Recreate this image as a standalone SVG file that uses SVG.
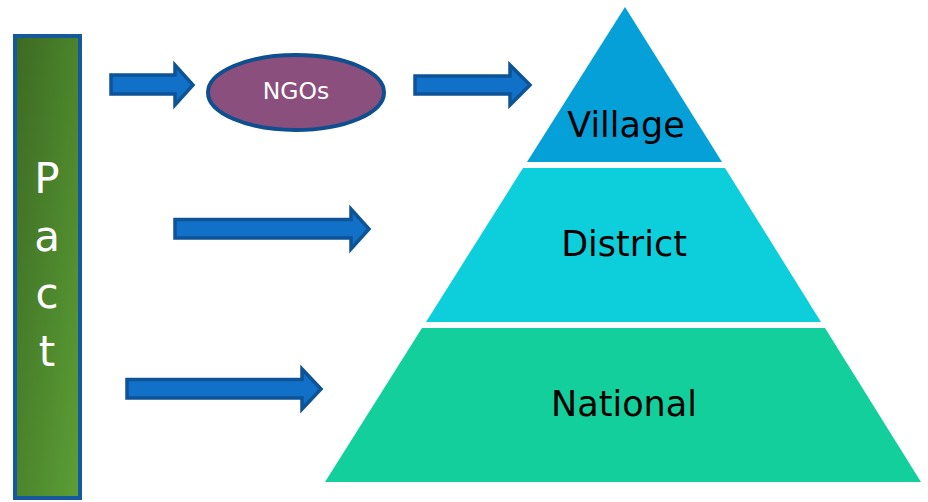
<svg xmlns="http://www.w3.org/2000/svg" width="928" height="502" viewBox="0 0 928 502">
<defs>
<linearGradient id="pactGrad" x1="0" y1="0" x2="1" y2="1">
<stop offset="0" stop-color="#3b6a22"/>
<stop offset="1" stop-color="#5c9f36"/>
</linearGradient>
<style>
.arrow{fill:#1170c8;stroke:#0d5396;stroke-width:3.5;stroke-linejoin:miter}
.lbl{font-family:"DejaVu Sans",Verdana,sans-serif;fill:#000;text-anchor:middle}
.pact{font-family:"DejaVu Sans",Verdana,sans-serif;fill:#fff;text-anchor:middle;font-size:42px}
</style>
</defs>
<rect width="928" height="502" fill="#fff"/>
<g id="pact">
<rect x="15" y="36" width="65" height="462" fill="url(#pactGrad)" stroke="#13599b" stroke-width="4"/>
<text class="pact" x="47" y="193">P</text>
<text class="pact" x="47" y="251">a</text>
<text class="pact" x="47" y="308">c</text>
<text class="pact" x="47" y="366">t</text>
</g>
<g id="ngos">
<ellipse cx="296" cy="92.5" rx="88" ry="37.5" fill="#8a4f7d" stroke="#0e4f8f" stroke-width="4"/>
<text x="296" y="99" font-family="DejaVu Sans,Verdana,sans-serif" font-size="23.5" fill="#fff" text-anchor="middle">NGOs</text>
</g>
<g id="village">
<polygon points="625,7 722,162 527,162" fill="#05a0d8"/>
<text class="lbl" x="626" y="137" font-size="35">Village</text>
</g>
<g id="district">
<polygon points="523,168 725,168 821,322 426,322" fill="#0dcfdb"/>
<text class="lbl" x="624" y="256" font-size="35">District</text>
</g>
<g id="national">
<polygon points="422,328 825,328 921,482 325,482" fill="#12cf9b"/>
<text class="lbl" x="624" y="416" font-size="35">National</text>
</g>
<g id="connectors">
<polygon class="arrow" points="111,75 175,75 175,65 193,85 175,105 175,94 111,94"/>
<polygon class="arrow" points="415,76 510,76 510,65 530,85 510,105 510,94 415,94"/>
<polygon class="arrow" points="175,219.5 351,219.5 351,209 369,229 351,249 351,238 175,238"/>
<polygon class="arrow" points="127,379.5 302,379.5 302,369 321,389 302,409 302,398 127,398"/>
</g>
</svg>
